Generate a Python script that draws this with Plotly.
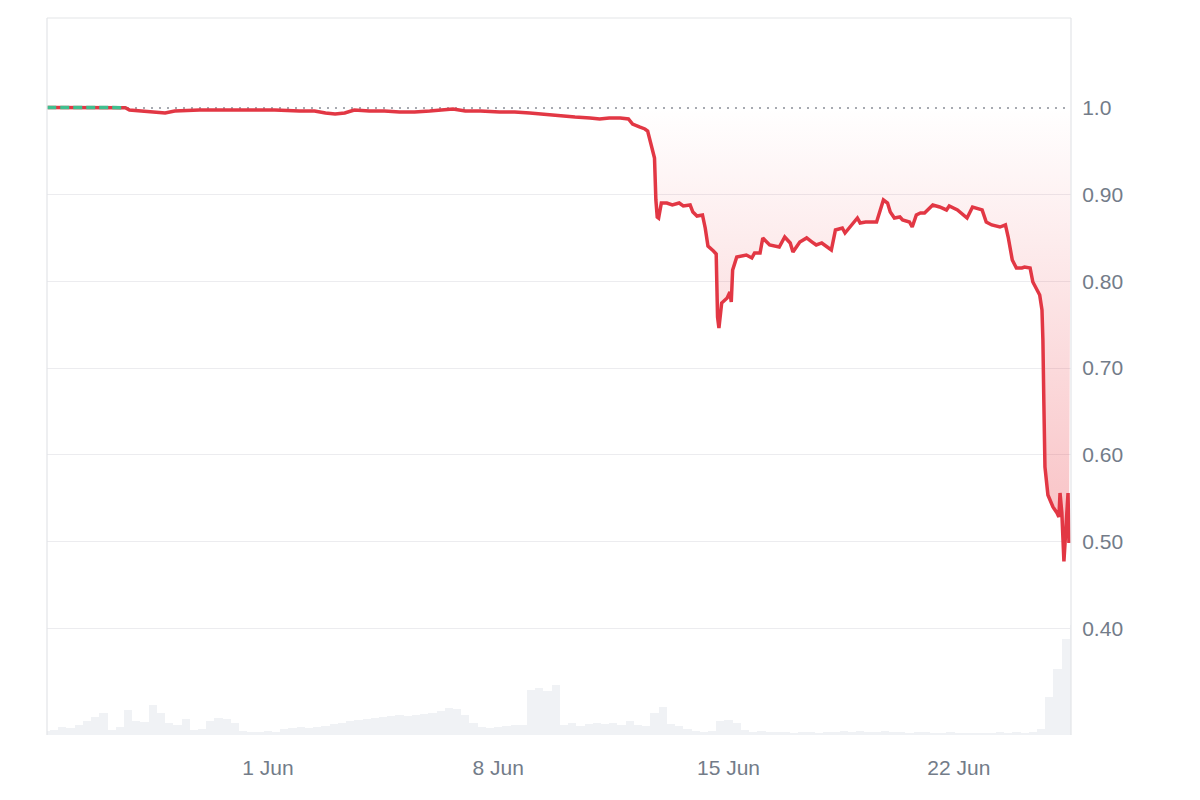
import plotly.graph_objects as go
import pandas as pd

# ---------------- data ----------------
price_time = [
    "2025-05-25 07:00", "2025-05-25 16:00", "2025-05-26 07:00", "2025-05-26 21:00",
    "2025-05-27 08:00", "2025-05-27 16:00", "2025-05-27 19:00", "2025-05-28 03:00",
    "2025-05-28 14:00", "2025-05-28 21:00", "2025-05-29 04:00", "2025-05-29 22:00",
    "2025-05-30 17:00", "2025-05-31 11:00", "2025-06-01 05:00", "2025-06-01 23:00",
    "2025-06-02 10:00", "2025-06-02 18:00", "2025-06-03 01:00", "2025-06-03 08:00",
    "2025-06-03 15:00", "2025-06-04 02:00", "2025-06-04 13:00", "2025-06-05 00:00",
    "2025-06-05 11:00", "2025-06-05 22:00", "2025-06-06 09:00", "2025-06-06 15:00",
    "2025-06-07 00:00", "2025-06-07 11:00", "2025-06-08 01:00", "2025-06-08 12:00",
    "2025-06-08 23:00", "2025-06-09 06:00", "2025-06-09 14:00", "2025-06-09 21:00",
    "2025-06-10 08:00", "2025-06-10 19:00", "2025-06-11 02:00", "2025-06-11 09:00",
    "2025-06-11 17:00", "2025-06-11 23:00", "2025-06-12 02:00", "2025-06-12 07:00",
    "2025-06-12 11:00", "2025-06-12 13:00", "2025-06-12 15:00", "2025-06-12 17:00",
    "2025-06-12 18:00", "2025-06-12 19:00", "2025-06-12 20:00", "2025-06-12 21:00",
    "2025-06-12 23:00", "2025-06-13 03:00", "2025-06-13 07:00", "2025-06-13 12:00",
    "2025-06-13 15:00", "2025-06-13 20:00", "2025-06-13 22:00", "2025-06-14 01:00",
    "2025-06-14 05:00", "2025-06-14 07:00", "2025-06-14 09:00", "2025-06-14 13:00",
    "2025-06-14 15:00", "2025-06-14 16:00", "2025-06-14 17:00", "2025-06-14 19:00",
    "2025-06-14 23:00", "2025-06-15 01:00", "2025-06-15 02:00", "2025-06-15 03:00",
    "2025-06-15 06:00", "2025-06-15 13:00", "2025-06-15 17:00", "2025-06-15 19:00",
    "2025-06-15 23:00", "2025-06-16 01:00", "2025-06-16 06:00", "2025-06-16 13:00",
    "2025-06-16 17:00", "2025-06-16 21:00", "2025-06-16 23:00", "2025-06-17 04:00",
    "2025-06-17 09:00", "2025-06-17 13:00", "2025-06-17 16:00", "2025-06-17 20:00",
    "2025-06-18 00:00", "2025-06-18 03:00", "2025-06-18 06:00", "2025-06-18 11:00",
    "2025-06-18 13:00", "2025-06-18 18:00", "2025-06-18 22:00", "2025-06-19 00:00",
    "2025-06-19 04:00", "2025-06-19 12:00", "2025-06-19 14:00", "2025-06-19 17:00",
    "2025-06-19 20:00", "2025-06-19 22:00", "2025-06-20 01:00", "2025-06-20 05:00",
    "2025-06-20 07:00", "2025-06-20 12:00", "2025-06-20 14:00", "2025-06-20 17:00",
    "2025-06-20 20:00", "2025-06-20 23:00", "2025-06-21 05:00", "2025-06-21 10:00",
    "2025-06-21 15:00", "2025-06-21 17:00", "2025-06-21 23:00", "2025-06-22 06:00",
    "2025-06-22 10:00", "2025-06-22 13:00", "2025-06-22 17:00", "2025-06-22 20:00",
    "2025-06-23 00:00", "2025-06-23 06:00", "2025-06-23 10:00", "2025-06-23 12:00",
    "2025-06-23 15:00", "2025-06-23 18:00", "2025-06-23 22:00", "2025-06-24 00:00",
    "2025-06-24 04:00", "2025-06-24 06:00", "2025-06-24 09:00", "2025-06-24 11:00",
    "2025-06-24 12:40", "2025-06-24 13:20", "2025-06-24 14:00", "2025-06-24 14:50",
    "2025-06-24 17:00", "2025-06-24 20:40", "2025-06-24 23:40", "2025-06-25 01:00",
    "2025-06-25 01:50", "2025-06-25 03:10", "2025-06-25 04:40", "2025-06-25 06:10",
    "2025-06-25 07:40", "2025-06-25 08:20",
]
price_value = [
    1.0006, 1.0006, 1.0005, 1.0006, 1.0005, 1.0004, 0.9977, 0.9965,
    0.9954, 0.9942, 0.9965, 0.9977, 0.9977, 0.9977, 0.9977, 0.9965,
    0.9965, 0.9942, 0.9931, 0.9942, 0.9977, 0.9965, 0.9965, 0.9954,
    0.9954, 0.9965, 0.9977, 0.9988, 0.9965, 0.9965, 0.9954, 0.9954,
    0.9942, 0.9931, 0.9919, 0.9908, 0.9896, 0.9885, 0.9873, 0.9885,
    0.9885, 0.9873, 0.9815, 0.9781, 0.9758, 0.9735, 0.9596, 0.9469,
    0.9423, 0.8939, 0.8743, 0.8731, 0.8904, 0.8904, 0.8881, 0.8904,
    0.8870, 0.8881, 0.8800, 0.8754, 0.8766, 0.8616, 0.8408, 0.8351,
    0.8316, 0.7589, 0.7463, 0.7751, 0.7809, 0.7878, 0.7762, 0.8131,
    0.8281, 0.8304, 0.8270, 0.8328, 0.8328, 0.8501, 0.8420, 0.8397,
    0.8512, 0.8443, 0.8339, 0.8454, 0.8501, 0.8454, 0.8420, 0.8443,
    0.8397, 0.8362, 0.8593, 0.8616, 0.8558, 0.8651, 0.8731, 0.8674,
    0.8685, 0.8685, 0.8789, 0.8939, 0.8904, 0.8800, 0.8731, 0.8743,
    0.8708, 0.8685, 0.8627, 0.8766, 0.8789, 0.8789, 0.8881, 0.8858,
    0.8824, 0.8870, 0.8824, 0.8731, 0.8858, 0.8847, 0.8824, 0.8685,
    0.8651, 0.8627, 0.8651, 0.8512, 0.8247, 0.8155, 0.8155, 0.8166,
    0.8155, 0.7993, 0.7901, 0.7843, 0.7670, 0.7324, 0.6632, 0.5859,
    0.5536, 0.5398, 0.5329, 0.5283, 0.5559, 0.5329, 0.4770, 0.5098,
    0.5559, 0.4983,
]

# 6-hourly traded volume (USD millions), starting 25 May 06:00
volume_start = "2025-05-25 06:00"
volume_m = [
    0.4, 0.5, 0.8, 0.7, 1.0, 1.4, 1.8, 2.2, 0.5, 0.8, 2.5, 1.4, 1.3, 3.0, 2.2, 1.2,
    1.0, 1.6, 0.5, 0.6, 1.4, 1.7, 1.6, 1.2, 0.4, 0.3, 0.3, 0.4, 0.3, 0.6, 0.7, 0.8,
    0.7, 0.8, 0.9, 1.1, 1.2, 1.4, 1.5, 1.6, 1.7, 1.8, 1.9, 2.0, 1.9, 2.0, 2.1, 2.2,
    2.4, 2.7, 2.6, 2.0, 1.2, 0.8, 0.7, 0.8, 0.9, 1.0, 1.0, 4.5, 4.7, 4.4, 5.0, 1.0,
    1.2, 0.9, 1.1, 1.2, 1.1, 1.2, 1.0, 1.4, 1.0, 0.9, 2.2, 2.8, 1.1, 0.9, 0.6, 0.4,
    0.3, 0.4, 1.4, 1.5, 1.2, 0.5, 0.3, 0.4, 0.3, 0.3, 0.3, 0.2, 0.3, 0.3, 0.2, 0.3,
    0.3, 0.4, 0.3, 0.4, 0.3, 0.3, 0.4, 0.3, 0.3, 0.2, 0.3, 0.3, 0.2, 0.2, 0.3, 0.2,
    0.2, 0.2, 0.2, 0.2, 0.3, 0.2, 0.3, 0.2, 0.3, 0.6, 3.8, 6.6, 9.6, 11.0,
]

x_tick_vals = ["2025-06-01", "2025-06-08", "2025-06-15", "2025-06-22"]
x_tick_text = ["1 Jun", "8 Jun", "15 Jun", "22 Jun"]
y_tick_vals = [0.4, 0.5, 0.6, 0.7, 0.8, 0.9]
y_tick_text = ["0.40", "0.50", "0.60", "0.70", "0.80", "0.90"]
peg_value = 1.0
x_range = ["2025-05-25 06:50", "2025-06-25 09:50"]

# ---------------- styles ----------------
RED = "#e23744"
GREEN = "#3fbf8f"
GRID = "#ececef"
FRAME = "#e3e5e8"
TICK = "#737c89"
VOL = "#f0f2f5"
FONT = "Liberation Sans, Arial, sans-serif"
FS = 21

fig = go.Figure()

# volume bars (base y axis, hidden)
vol_x = pd.date_range(volume_start, periods=len(volume_m), freq="6h")
fig.add_trace(go.Bar(
    x=vol_x, y=volume_m, marker=dict(color=VOL, line=dict(width=0)),
    width=6 * 3600 * 1000, yaxis="y", hoverinfo="skip", showlegend=False,
))

# peg line at 1.0 (dotted)
fig.add_trace(go.Scatter(
    x=x_range, y=[peg_value, peg_value], mode="lines", yaxis="y2",
    line=dict(color="#8a8f98", width=1.6, dash="2px,6px"),
    hoverinfo="skip", showlegend=False,
))

# price with gradient fill to the peg line
fig.add_trace(go.Scatter(
    x=price_time, y=price_value, mode="lines", yaxis="y2",
    line=dict(color=RED, width=3.5),
    fill="tonexty",
    fillgradient=dict(
        type="vertical", start=min(price_value), stop=peg_value,
        colorscale=[[0, "rgba(234,57,67,0.33)"], [1, "rgba(234,57,67,0.0)"]],
    ),
    showlegend=False,
))

# segment above the peg drawn in green
n_green = 0
for v in price_value:
    if v >= peg_value:
        n_green += 1
    else:
        break
fig.add_trace(go.Scatter(
    x=price_time[:n_green], y=price_value[:n_green], mode="lines", yaxis="y2",
    line=dict(color=GREEN, width=3.5, dash="9px,4px"), showlegend=False,
))

# invisible trace so that the 1.0 label axis is rendered
fig.add_trace(go.Scatter(
    x=[x_range[0]], y=[peg_value], yaxis="y3", mode="markers",
    marker=dict(opacity=0), hoverinfo="skip", showlegend=False,
))

y_lo, y_hi = 0.2768, 1.1038

fig.update_layout(
    width=1200, height=800,
    margin=dict(l=39, r=137, t=10, b=73),
    paper_bgcolor="white", plot_bgcolor="white",
    font=dict(family=FONT, size=FS, color=TICK),
    bargap=0,
    xaxis=dict(
        range=x_range, type="date",
        tickvals=x_tick_vals, ticktext=x_tick_text,
        showgrid=False, zeroline=False, showline=False,
        ticks="outside", ticklen=14, tickcolor="rgba(0,0,0,0)",
        tickfont=dict(size=FS, color=TICK, family=FONT),
    ),
    yaxis=dict(range=[0, 71.7], visible=False, showgrid=False, fixedrange=True),
    yaxis2=dict(
        overlaying="y", side="right", range=[y_lo, y_hi],
        tickvals=y_tick_vals, ticktext=y_tick_text,
        showgrid=True, gridcolor=GRID, gridwidth=1.2, zeroline=False, showline=False,
        ticks="outside", ticklen=6, tickcolor="rgba(0,0,0,0)",
        tickfont=dict(size=FS, color=TICK, family=FONT),
    ),
    yaxis3=dict(
        overlaying="y", side="right", range=[y_lo, y_hi],
        tickvals=[peg_value], ticktext=["1.0"],
        showgrid=False, zeroline=False, showline=False,
        ticks="outside", ticklen=6, tickcolor="rgba(0,0,0,0)",
        tickfont=dict(size=FS, color=TICK, family=FONT),
    ),
    shapes=[
        dict(type="line", xref="paper", yref="paper", x0=0, x1=1, y0=1, y1=1,
             line=dict(color=FRAME, width=1.2)),
        dict(type="line", xref="paper", yref="paper", x0=0, x1=0, y0=0, y1=1,
             line=dict(color=FRAME, width=1.2)),
        dict(type="line", xref="paper", yref="paper", x0=1, x1=1, y0=0, y1=1,
             line=dict(color=FRAME, width=1.2)),
    ],
)

fig.write_html("out.html")
